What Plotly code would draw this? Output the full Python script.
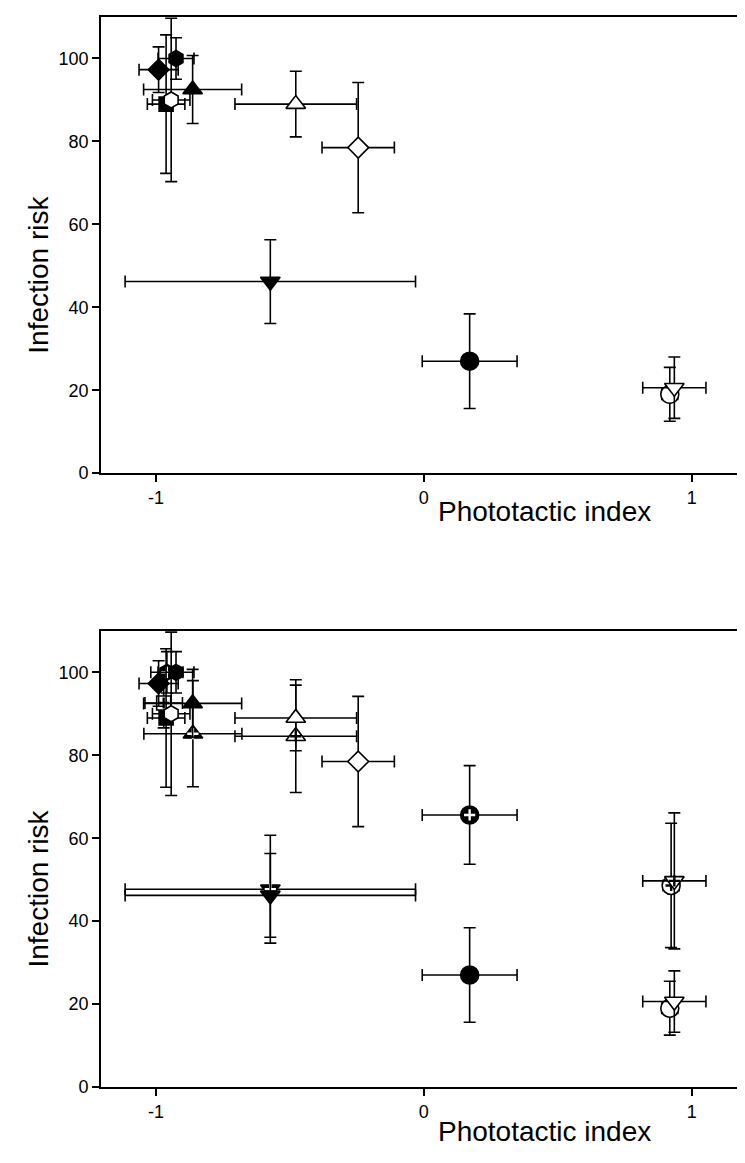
import plotly.graph_objects as go

# ---------------- data ----------------
# Species shown in both panels (phototactic index vs infection risk)
base_x = [-0.990, -0.925, -0.863, -0.962, -0.943, -0.478, -0.245, -0.573, 0.171, 0.918, 0.935]
base_xerr = [0.073, 0.067, 0.183, 0.070, 0.070, 0.227, 0.135, 0.542, 0.177, 0.030, 0.118]
base_y = [97.3, 100.0, 92.5, 89.0, 90.0, 89.0, 78.5, 46.2, 27.0, 19.0, 20.6]
base_yerr = [5.5, 5.0, 8.2, 16.7, 19.7, 7.9, 15.7, 10.1, 11.4, 6.5, 7.4]

# Additional (crossed) points shown only in the lower panel
extra_x = [-0.971, -0.959, -0.862, -0.478, 0.171, -0.573, 0.923, 0.935]
extra_xerr = [0.070, 0.060, 0.183, 0.227, 0.177, 0.542, 0.030, 0.118]
extra_y = [92.6, 100.0, 85.2, 84.6, 65.6, 47.7, 48.6, 49.7]
extra_yerr = [6.0, 5.0, 12.8, 13.6, 11.9, 13.0, 15.0, 16.4]

x_ticks = [-1, 0, 1]
x_tick_text = ["-1", "0", "1"]
y_ticks = [0, 20, 40, 60, 80, 100]
x_title = "Phototactic index"
y_title = "Infection risk"

# ---------------- styles ----------------
base_symbols = ["diamond", "hexagon", "triangle-up", "square", "hexagon", "triangle-up",
                "diamond", "triangle-down", "circle", "circle", "triangle-down"]
base_fills = ["black", "black", "black", "black", "white", "white",
              "white", "black", "black", "white", "white"]
extra_symbols = ["square", "hexagon", "triangle-up", "triangle-up", "circle",
                 "triangle-down", "circle", "triangle-down"]
extra_fills = ["white", "black", "black", "white", "black", "black", "white", "white"]
sizes = {"diamond": 16, "hexagon": 16, "triangle-up": 17, "triangle-down": 17,
         "square": 14, "circle": 18}

FONT = "Liberation Sans, Arial, sans-serif"
fig = go.Figure()


def add_point(x, xe, y, ye, sym, fill, xa, ya, cross=False):
    fig.add_trace(go.Scatter(
        x=[x], y=[y], mode="markers", xaxis=xa, yaxis=ya, showlegend=False,
        error_x=dict(type="data", array=[xe], color="black", thickness=1.6, width=6),
        error_y=dict(type="data", array=[ye], color="black", thickness=1.6, width=6),
        marker=dict(symbol=sym, size=sizes[sym], color=fill,
                    line=dict(color="black", width=1.6)),
        hoverinfo="skip"))
    if cross:
        cc = "white" if fill == "black" else "black"
        fig.add_trace(go.Scatter(
            x=[x], y=[y], mode="markers", xaxis=xa, yaxis=ya, showlegend=False,
            marker=dict(symbol="cross-thin", size=8, color=cc,
                        line=dict(color=cc, width=2.4)),
            hoverinfo="skip"))


# top panel
for i in range(len(base_x)):
    add_point(base_x[i], base_xerr[i], base_y[i], base_yerr[i],
              base_symbols[i], base_fills[i], "x", "y")
# bottom panel
for i in range(len(extra_x)):
    add_point(extra_x[i], extra_xerr[i], extra_y[i], extra_yerr[i],
              extra_symbols[i], extra_fills[i], "x2", "y2", cross=True)
for i in range(len(base_x)):
    add_point(base_x[i], base_xerr[i], base_y[i], base_yerr[i],
              base_symbols[i], base_fills[i], "x2", "y2")

axis_common = dict(showline=True, linecolor="black", linewidth=1.8, mirror=True,
                   ticks="outside", ticklen=7, tickwidth=1.5, tickcolor="black",
                   showgrid=False, zeroline=False,
                   tickfont=dict(family=FONT, size=18, color="black"))

top_lo = 1 - 457 / 1072
bot_hi = 1 - 615 / 1072

fig.update_layout(
    width=745, height=1163,
    margin=dict(l=93, r=7, t=7, b=84),
    paper_bgcolor="white", plot_bgcolor="white",
    xaxis=dict(range=[-1.205, 1.195], tickvals=x_ticks, ticktext=x_tick_text,
               domain=[0, 1], anchor="y", **axis_common),
    yaxis=dict(range=[0, 110], tickvals=y_ticks, domain=[top_lo, 1], anchor="x", **axis_common),
    xaxis2=dict(range=[-1.205, 1.195], tickvals=x_ticks, ticktext=x_tick_text,
                domain=[0, 1], anchor="y2", **axis_common),
    yaxis2=dict(range=[0, 110], tickvals=y_ticks, domain=[0, bot_hi], anchor="x2", **axis_common),
)

title_font = dict(family=FONT, size=28, color="black")
for yp in [(1079 - 502) / 1072, (1079 - 1124) / 1072]:
    fig.add_annotation(text=x_title, xref="paper", yref="paper", x=0.69, y=yp,
                       showarrow=False, font=title_font, xanchor="center", yanchor="middle")
for yp in [(1079 - 265) / 1072, (1079 - 880) / 1072]:
    fig.add_annotation(text=y_title, xref="paper", yref="paper", x=(30 - 93) / 645, y=yp,
                       showarrow=False, font=title_font, textangle=-90,
                       xanchor="center", yanchor="middle")

fig.write_html("out.html")
